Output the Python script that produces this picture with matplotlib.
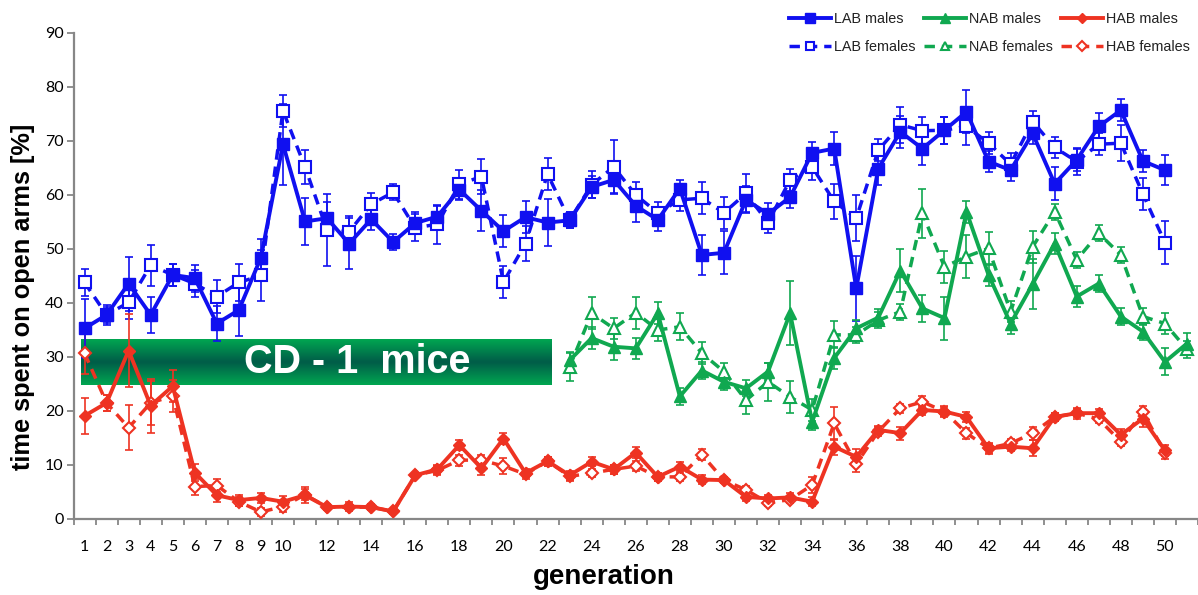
import numpy as np
import matplotlib
matplotlib.use("Agg")
import matplotlib.pyplot as plt
from matplotlib.colors import LinearSegmentedColormap

# ---------------- data ----------------
gen_lh = list(range(1, 51))
gen_nab = list(range(23, 52))

lab_m = [35.3, 37.8, 43.6, 37.8, 45.2, 44.6, 36.2, 38.7, 48.4, 69.4,
         55.1, 55.7, 51.0, 55.5, 51.3, 54.8, 56.0, 61.0, 57.1, 53.3,
         55.9, 54.9, 55.3, 61.5, 62.8, 58.0, 55.4, 61.2, 48.9, 49.3,
         59.1, 56.5, 59.6, 67.8, 68.6, 42.7, 64.9, 71.7, 68.6, 72.0,
         75.4, 66.2, 64.6, 71.4, 62.1, 66.5, 72.7, 75.7, 66.3, 64.6]
lab_m_err = [5.5, 1.8, 5.0, 3.4, 2.0, 2.5, 3.2, 4.8, 3.5, 7.5,
             4.3, 3.0, 4.7, 2.0, 1.5, 2.0, 2.0, 2.0, 3.8, 3.0,
             3.0, 4.3, 1.5, 2.0, 2.5, 3.0, 2.0, 1.5, 3.7, 4.0,
             2.5, 2.0, 2.0, 2.0, 3.0, 6.0, 3.0, 3.0, 3.0, 2.5,
             4.0, 2.0, 2.0, 2.0, 3.0, 2.0, 2.5, 2.0, 2.0, 2.8]

lab_f = [43.8, 37.8, 40.1, 47.0, 45.2, 43.6, 41.2, 43.8, 45.1, 75.6,
         65.2, 53.5, 53.2, 58.3, 60.5, 53.9, 54.6, 62.0, 63.4, 43.9,
         51.0, 63.9, 55.3, 61.9, 65.2, 60.0, 56.7, 59.1, 59.4, 56.7,
         60.3, 54.9, 62.8, 65.2, 58.8, 55.7, 68.3, 73.0, 71.9, 72.0,
         72.7, 69.6, 65.7, 73.6, 68.8, 66.2, 69.4, 69.6, 60.2, 51.2]
lab_f_err = [2.5, 1.5, 3.0, 3.8, 2.0, 2.5, 3.0, 3.5, 4.8, 3.0,
             3.2, 6.6, 3.0, 2.0, 1.5, 2.5, 3.6, 2.7, 3.3, 3.0,
             3.3, 3.0, 1.5, 2.5, 5.0, 2.5, 2.0, 2.0, 3.0, 3.0,
             3.5, 2.0, 2.0, 2.5, 3.2, 4.3, 2.0, 3.3, 2.5, 2.5,
             3.5, 2.0, 2.0, 2.0, 2.0, 2.5, 2.0, 3.3, 3.0, 4.0]

nab_m = [29.4, 33.5, 31.9, 31.6, 38.1, 22.7, 27.5, 25.4, 24.2, 27.3,
         38.1, 18.0, 29.8, 35.3, 37.3, 46.0, 39.0, 37.2, 56.9, 45.2,
         36.2, 43.5, 51.0, 41.2, 43.6, 37.5, 34.7, 29.1, 32.5]
nab_m_err = [1.5, 2.0, 2.5, 2.0, 2.0, 1.5, 1.5, 1.5, 1.5, 1.5,
             5.9, 1.5, 2.0, 1.5, 1.5, 4.0, 2.5, 4.0, 2.0, 2.0,
             2.0, 4.6, 2.0, 2.0, 1.5, 1.5, 1.5, 2.5, 2.0]

nab_f = [28.2, 38.1, 35.3, 38.2, 35.0, 35.6, 30.7, 27.3, 22.0, 25.4,
         22.6, 20.2, 34.1, 34.1, 36.8, 38.4, 56.6, 46.7, 48.6, 50.1,
         38.4, 50.4, 56.9, 48.0, 52.9, 48.9, 37.5, 36.2, 31.4]
nab_f_err = [2.6, 3.0, 2.0, 3.0, 2.0, 2.5, 2.0, 1.5, 2.5, 3.5,
             3.0, 2.0, 2.5, 1.5, 1.5, 1.5, 4.5, 3.0, 4.0, 3.0,
             2.0, 3.0, 1.5, 1.5, 1.5, 1.5, 1.5, 2.0, 1.5]

hab_m = [19.1, 21.5, 31.2, 21.0, 24.6, 8.6, 4.4, 3.5, 3.9, 3.2,
         4.4, 2.2, 2.3, 2.2, 1.4, 8.1, 9.2, 13.7, 9.4, 14.9,
         8.5, 10.7, 8.1, 10.6, 9.2, 12.3, 7.8, 9.7, 7.3, 7.2,
         4.1, 3.8, 4.0, 3.2, 13.4, 11.5, 16.5, 15.9, 20.2, 19.9,
         18.9, 13.1, 13.4, 13.1, 18.9, 19.6, 19.6, 15.6, 18.6, 12.7]
hab_m_err = [3.3, 1.5, 6.7, 5.0, 3.0, 1.5, 1.2, 1.0, 1.0, 1.0,
             1.5, 0.5, 0.8, 0.5, 0.5, 0.5, 0.8, 1.0, 1.2, 1.0,
             0.8, 0.8, 0.8, 0.8, 0.8, 1.0, 0.8, 0.8, 0.8, 0.6,
             0.8, 0.6, 0.8, 0.8, 1.5, 1.5, 0.8, 1.2, 1.0, 1.0,
             1.0, 1.0, 0.8, 1.5, 0.8, 1.0, 0.8, 1.0, 1.5, 1.0]

hab_f = [30.7, 21.5, 16.9, 21.5, 22.8, 6.0, 6.2, 3.2, 1.3, 2.3,
         4.5, 2.2, 2.2, 2.2, 1.4, 8.1, 9.0, 10.9, 10.9, 9.8,
         8.3, 10.7, 7.9, 8.5, 9.2, 9.8, 7.8, 7.8, 11.9, 7.2,
         5.4, 3.0, 3.6, 6.3, 17.7, 10.2, 16.2, 20.5, 21.7, 19.9,
         15.9, 13.1, 14.0, 15.9, 18.9, 19.6, 18.5, 14.3, 19.9, 12.2]
hab_f_err = [3.8, 1.5, 4.2, 4.0, 3.0, 1.5, 1.2, 0.8, 0.8, 1.0,
             1.0, 0.5, 0.5, 0.5, 0.5, 0.5, 0.8, 1.0, 1.0, 1.5,
             0.8, 0.8, 0.8, 0.8, 0.8, 1.0, 0.8, 0.8, 1.0, 0.6,
             0.8, 0.6, 0.6, 1.5, 3.0, 1.5, 0.8, 0.8, 1.0, 0.8,
             1.0, 0.8, 0.8, 1.2, 0.8, 0.8, 0.8, 0.8, 1.0, 1.0]

x_tick_labels = [1, 2, 3, 4, 5, 6, 7, 8, 9, 10] + list(range(12, 51, 2))
y_ticks = list(range(0, 91, 10))

# ---------------- style ----------------
BLUE = '#1010F0'
GREEN = '#10A850'
RED = '#EE3322'
GRAY = '#878787'

fig = plt.figure(figsize=(11.98, 5.95), dpi=100)
ax = fig.add_axes([73.5 / 1198, 76 / 595, (1198 - 73.5) / 1198, 486 / 595])

DASH = (0, (3.0, 2.0))

def series(x, y, e, color, marker, filled, dashed, ms, label):
    ax.errorbar(x, y, yerr=e, fmt='none', ecolor=color, elinewidth=1.2,
                capsize=3.2, capthick=1.2, zorder=3)
    ln, = ax.plot(x, y, color=color, lw=2.8 if not dashed else 2.5,
                  linestyle=DASH if dashed else '-',
                  marker=marker, markersize=ms,
                  markerfacecolor=color if filled else 'white',
                  markeredgecolor=color, markeredgewidth=1.5 if not filled else 1.0,
                  label=label, zorder=4)
    return ln

h_lab_f = series(gen_lh, lab_f, lab_f_err, BLUE, 's', False, True, 8.5, 'LAB females')
h_nab_f = series(gen_nab, nab_f, nab_f_err, GREEN, '^', False, True, 8.5, 'NAB females')
h_hab_f = series(gen_lh, hab_f, hab_f_err, RED, 'D', False, True, 6.3, 'HAB females')
h_lab_m = series(gen_lh, lab_m, lab_m_err, BLUE, 's', True, False, 9.0, 'LAB males')
h_nab_m = series(gen_nab, nab_m, nab_m_err, GREEN, '^', True, False, 9.0, 'NAB males')
h_hab_m = series(gen_lh, hab_m, hab_m_err, RED, 'D', True, False, 6.3, 'HAB males')

# ---------------- CD-1 box ----------------
cmap = LinearSegmentedColormap.from_list('g', ['#00A651', '#005C48', '#00A651'])
grad = np.linspace(0, 1, 100).reshape(-1, 1)
ax.imshow(grad, cmap=cmap, extent=(0.84, 22.17, 24.9, 33.3), aspect='auto',
          zorder=1, interpolation='bicubic')
ax.text(13.36, 29.15, 'CD - 1  mice', color='white', fontsize=28.5, fontweight='bold',
        family='Liberation Sans', ha='center', va='center', zorder=2)

# ---------------- axes ----------------
ax.set_xlim(0.5, 51.45)
ax.set_ylim(0, 90)

ax.set_xticks(x_tick_labels)
ax.set_xticklabels([str(v) for v in x_tick_labels], family='Lato', fontsize=11.5)
ax.set_xticks(np.arange(0.5, 52, 1), minor=True)
ax.tick_params(axis='x', which='major', length=0, pad=15)
ax.tick_params(axis='x', which='minor', length=4, width=1.3, color=GRAY, direction='out')

ax.set_yticks(y_ticks)
ax.set_yticklabels([str(v) for v in y_ticks], family='Lato', fontsize=11.5)
ax.tick_params(axis='y', which='major', length=5, width=1.3, color=GRAY, pad=2)

for s in ['top', 'right']:
    ax.spines[s].set_visible(False)
for s in ['left', 'bottom']:
    ax.spines[s].set_color(GRAY)
    ax.spines[s].set_linewidth(1.6)

ax.set_xlabel('generation', fontsize=20, fontweight='bold', family='Liberation Sans')
ax.xaxis.label.set_va('center')
ax.xaxis.set_label_coords((604 - 73.5) / 1124.5, (519 - 577) / 486)
ax.set_ylabel('time spent on open arms [%]', fontsize=18.3, fontweight='bold',
              family='Liberation Sans')
ax.yaxis.label.set_va('center')
ax.yaxis.label.set_ha('center')
ax.yaxis.set_label_coords((23 - 73.5) / 1124.5, (519 - 297) / 486)

handles = [h_lab_m, h_lab_f, h_nab_m, h_nab_f, h_hab_m, h_hab_f]
leg = fig.legend(handles=handles, labels=[h.get_label() for h in handles],
                 ncol=3, loc='upper left', bbox_to_anchor=(789 / 1198, 1 - 12 / 595),
                 frameon=False, prop={'family': 'Liberation Sans', 'size': 10.4},
                 handlelength=2.9, handletextpad=0.2, columnspacing=0.6,
                 labelspacing=1.0, borderaxespad=0, borderpad=0, markerscale=0.75)
for t in leg.get_texts():
    t.set_color('#222222')

fig.savefig('out.png', dpi=100)
